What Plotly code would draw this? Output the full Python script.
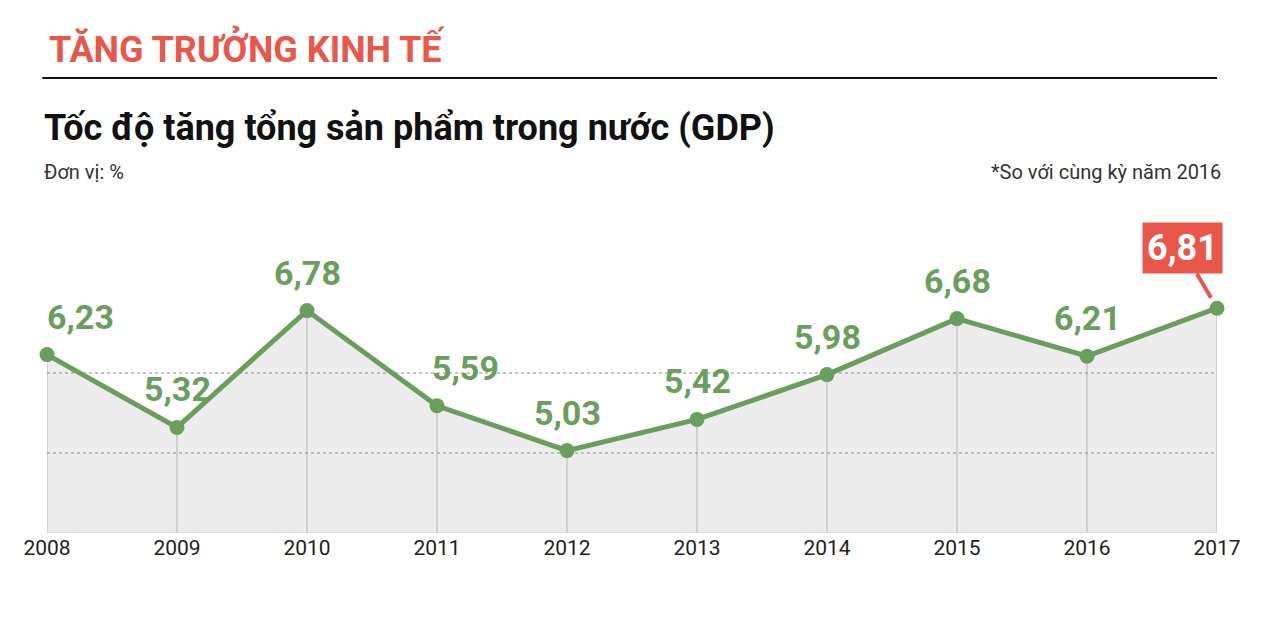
import plotly.graph_objects as go

years = [2008, 2009, 2010, 2011, 2012, 2013, 2014, 2015, 2016, 2017]
gdp = [6.23, 5.32, 6.78, 5.59, 5.03, 5.42, 5.98, 6.68, 6.21, 6.81]
labels = ["6,23", "5,32", "6,78", "5,59", "5,03", "5,42", "5,98", "6,68", "6,21", "6,81"]
label_dx = [33, 0, 0, 28, 0, 0, 0, 0, 0, 0]
grid_vals = [5, 6]

GREEN = "#6a9e5c"
RED = "#e8574a"

fig = go.Figure()
fig.add_trace(go.Scatter(x=years, y=gdp, mode="none", fill="tozeroy",
                         fillcolor="#ececec", hoverinfo="skip"))
vx, vy = [], []
for x, y in zip(years, gdp):
    vx += [x, x, None]
    vy += [4, y, None]
fig.add_trace(go.Scatter(x=vx, y=vy, mode="lines", line=dict(color="#b5b5b5", width=1),
                         hoverinfo="skip"))
for v in grid_vals:
    fig.add_trace(go.Scatter(x=[years[0], years[-1]], y=[v, v], mode="lines",
                             line=dict(color="#8a8a8a", width=1, dash="dot"), hoverinfo="skip"))
fig.add_trace(go.Scatter(x=[years[0], years[-1]], y=[4, 4], mode="lines",
                         line=dict(color="#cfcfcf", width=1), hoverinfo="skip"))
fig.add_trace(go.Scatter(x=years, y=gdp, mode="lines+markers",
                         line=dict(color=GREEN, width=5),
                         marker=dict(size=15, color=GREEN), cliponaxis=False,
                         hoverinfo="skip"))

for x, y, t, dx in list(zip(years, gdp, labels, label_dx))[:-1]:
    fig.add_annotation(x=x, y=y, text="<b>%s</b>" % t, showarrow=False, yshift=38, xshift=dx,
                       font=dict(family="Roboto", size=34, color=GREEN))
fig.add_annotation(x=years[-1], y=gdp[-1], text="<b>%s</b>" % labels[-1], showarrow=True,
                   arrowhead=0, arrowwidth=4, arrowcolor=RED, ax=-35, ay=-60, xanchor="center",
                   standoff=12, bgcolor=RED, borderpad=4,
                   font=dict(family="Roboto", size=36, color="white"))

# titles
fig.add_annotation(xref="paper", yref="paper", x=0.0, y=1.456, xanchor="left", yanchor="middle",
                   text="<b>TĂNG TRƯỞNG KINH TẾ</b>", showarrow=False,
                   font=dict(family="Roboto", size=36, color=RED))
fig.add_shape(type="line", xref="paper", yref="paper", x0=-0.004, x1=1.0, y0=1.366, y1=1.366,
              line=dict(color="#111", width=2))
fig.add_annotation(xref="paper", yref="paper", x=-0.004, y=1.216, xanchor="left", yanchor="middle",
                   text="<b>Tốc độ tăng tổng sản phẩm trong nước (GDP)</b>", showarrow=False,
                   font=dict(family="Roboto", size=36, color="#111"))
fig.add_annotation(xref="paper", yref="paper", x=-0.004, y=1.084, xanchor="left", yanchor="middle",
                   text="Đơn vị: %", showarrow=False,
                   font=dict(family="Roboto", size=20, color="#333"))
fig.add_annotation(xref="paper", yref="paper", x=1.005, y=1.084, xanchor="right", yanchor="middle",
                   text="*So với cùng kỳ năm 2016", showarrow=False,
                   font=dict(family="Roboto", size=20, color="#333"))

fig.update_layout(
    width=1263, height=629, paper_bgcolor="white", plot_bgcolor="white",
    margin=dict(l=39, r=54, t=192, b=104), showlegend=False,
    xaxis=dict(range=[2008, 2017], tickvals=years, ticktext=[str(y) for y in years],
               showgrid=False, zeroline=False, showline=False,
               tickfont=dict(family="Roboto", size=21, color="#222"), ticks=""),
    yaxis=dict(range=[4, 4 + 333 / 80], visible=False, showgrid=False, zeroline=False),
)
fig.write_html("out.html")
